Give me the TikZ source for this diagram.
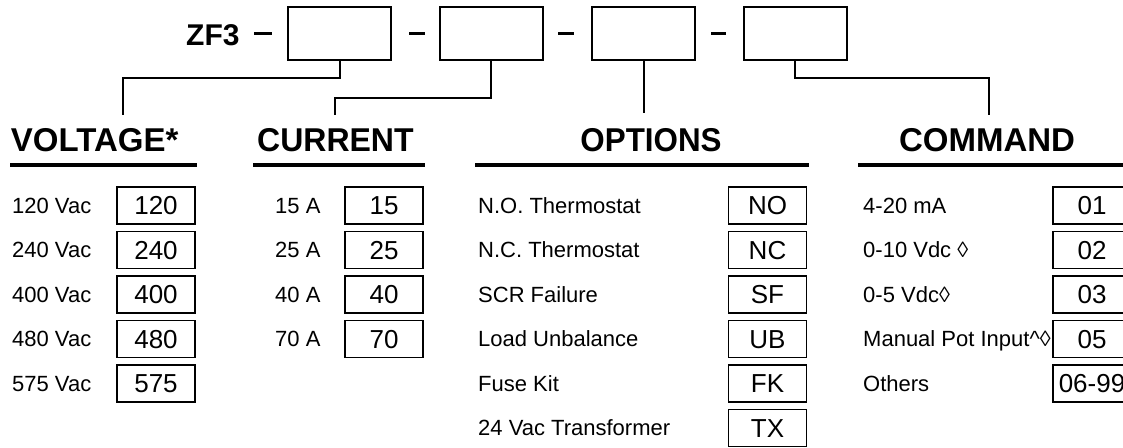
\documentclass[tikz,border=0pt]{standalone}
\usepackage{fontspec}
\setmainfont{Liberation Sans}
\begin{document}
\begin{tikzpicture}[x=1pt,y=-1pt,
  lbl/.style={anchor=base west,inner sep=0pt,font=\fontsize{22}{26}\selectfont},
  code/.style={draw,line width=1.6pt,minimum width=78pt,minimum height=37pt,inner sep=0pt,text height=18.6pt,text depth=0pt,font=\fontsize{26}{30}\selectfont},
  slot/.style={draw,line width=2pt,minimum width=103pt,minimum height=53pt,inner sep=0pt},
  head/.style={inner sep=0pt,font=\bfseries\fontsize{33}{37}\selectfont},
  model/.style={inner sep=0pt,font=\bfseries\fontsize{30}{34}\selectfont},
  rule/.style={line width=3.5pt},
  link/.style={line width=2pt},
  sep/.style={line width=3pt}]
\fill[white] (0,0) rectangle (1123,447);
\useasboundingbox (0,0) rectangle (1123,447);

% model number
\node[model,anchor=base west] (zf) at (186,45.5) {ZF3};
\node[slot] (b1) at (339.5,33.5) {};
\node[slot] (b2) at (491,33.5) {};
\node[slot] (b3) at (643.5,33.5) {};
\node[slot] (b4) at (795,33.5) {};
\draw[sep] (254,33.5) -- (272,33.5);
\draw[sep] (409,33.5) -- (425,33.5);
\draw[sep] (558,33.5) -- (574,33.5);
\draw[sep] (711,33.5) -- (726,33.5);

% headers
\node[head,anchor=base west] (hv) at (10.7,151) {VOLTAGE*};
\node[head,anchor=base west] (hc) at (257,151) {\scalebox{0.97}[1]{CURRENT}};
\node[head,anchor=base] (ho) at (651,151) {\scalebox{0.95}[1]{OPTIONS}};
\node[head,anchor=base] (hm) at (987,151) {COMMAND};
\draw[rule] (10,165) -- (197,165);
\draw[rule] (253,165) -- (425,165);
\draw[rule] (475,165) -- (809,165);
\draw[rule] (858,165) -- (1130,165);

% connectors
\coordinate (e1) at (123,115);
\coordinate (e2) at (335,115);
\coordinate (e3) at (643.5,113);
\coordinate (e4) at (989,115);
\draw[link] (b1.south) -- ++(0,17) -| (e1);
\draw[link] (b2.south) -- ++(0,37) -| (e2);
\draw[link] (b3.south) -- (e3);
\draw[link] (b4.south) -- ++(0,17) -| (e4);

% voltage
\foreach \t/\c [count=\i from 0] in {120 Vac/120,240 Vac/240,400 Vac/400,480 Vac/480,575 Vac/575}{
  \pgfmathsetmacro\yc{205.5+44.5*\i}
  \node[lbl] (vl\i) at (12,\yc+7.9) {\t};
  \node[code] (vc\i) at (156,\yc) {\c};
}
% current
\foreach \t/\c [count=\i from 0] in {15 A/15,25 A/25,40 A/40,70 A/70}{
  \pgfmathsetmacro\yc{205.5+44.5*\i}
  \node[lbl] (cl\i) at (275,\yc+7.9) {\t};
  \node[code] (cc\i) at (384,\yc) {\c};
}
% options
\foreach \t/\c [count=\i from 0] in {N.O. Thermostat/NO,N.C. Thermostat/NC,SCR Failure/SF,Load Unbalance/UB,Fuse Kit/FK,24 Vac Transformer/TX}{
  \pgfmathsetmacro\yc{205.5+44.5*\i}
  \node[lbl] (ol\i) at (478,\yc+7.9) {\t};
  \node[code] (oc\i) at (767.5,\yc) {\c};
}
% command
\foreach \t/\c [count=\i from 0] in {4-20 mA/01,0-10 Vdc ◊/02,0-5 Vdc◊/03,Manual Pot Input\textasciicircum◊/05,Others/06-99}{
  \pgfmathsetmacro\yc{205.5+44.5*\i}
  \node[lbl] (ml\i) at (863,\yc+7.9) {\t};
  \node[code] (mc\i) at (1092,\yc) {\c};
}
\end{tikzpicture}
\end{document}
